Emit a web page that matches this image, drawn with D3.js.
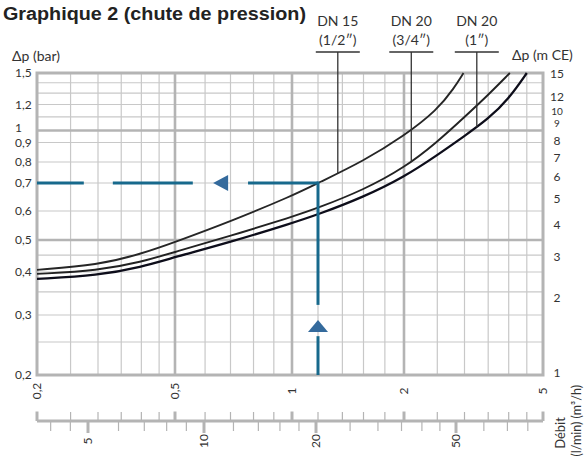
<!DOCTYPE html>
<html><head><meta charset="utf-8">
<script src="https://cdn.jsdelivr.net/npm/d3@7"></script>
<style>body{margin:0;background:#fff}svg{display:block}</style>
</head><body><svg id="c" width="584" height="462"></svg>
<script>
// ---------- data ----------
const title = "Graphique 2 (chute de pression)";
const seriesTop = ["DN 15", "DN 20", "DN 20"];
const seriesSub = ["(1/2″)", "(3/4″)", "(1″)"];
// flow (m³/h) and pressure drop (bar) per series
const flowDN15  = [0.2, 0.3, 0.4, 0.5, 0.7, 1, 1.2, 1.6, 2, 2.5, 2.8, 2.98];
const dpDN15    = [0.406, 0.420, 0.454, 0.493, 0.562, 0.652, 0.7, 0.805, 0.953, 1.155, 1.349, 1.5];
const flowDN20a = [0.2, 0.3, 0.4, 0.5, 0.7, 1, 1.2, 1.6, 2, 2.5, 3, 3.5, 4.03];
const dpDN20a   = [0.395, 0.404, 0.429, 0.46, 0.513, 0.578, 0.61, 0.674, 0.77, 0.904, 1.099, 1.284, 1.5];
const flowDN20b = [0.2, 0.3, 0.4, 0.5, 0.7, 1, 1.2, 1.6, 2, 2.5, 3, 3.5, 4, 4.5];
const dpDN20b   = [0.382, 0.391, 0.414, 0.444, 0.493, 0.556, 0.587, 0.648, 0.727, 0.834, 0.953, 1.084, 1.248, 1.5];
const leaderFlow = [1.36, 2.1, 3.25];
// axis ticks
const yTicksBar  = [0.2, 0.3, 0.4, 0.5, 0.6, 0.7, 0.8, 0.9, 1, 1.2, 1.5];
const yMinorBar  = [0.25, 0.3, 0.35, 0.4, 0.45, 0.6, 0.7, 0.8, 0.9, 1.1, 1.2, 1.3, 1.4];
const yMajorBar  = [0.5, 1];
const yTicksMCE  = [1, 2, 3, 4, 5, 6, 7, 8, 9, 10, 12, 15];
const xTicksM3h  = [0.2, 0.5, 1, 2, 5];
const xMinorM3h  = [0.25, 0.3, 0.35, 0.4, 0.45, 0.6, 0.7, 0.8, 0.9, 1.2, 1.4, 1.6, 1.8, 2.5, 3, 3.5, 4, 4.5];
const xMajorM3h  = [0.5, 1, 2];
const xTicksLmin = [5, 10, 20, 50];
const xMinorLmin = [4, 4.5, 6, 7, 8, 9, 12, 14, 16, 18, 25, 30, 35, 40, 45, 60, 70, 80];
// worked example (reading path)
const exampleFlow = 1.2, exampleDp = 0.7;
const exampleHoriz = [[0.2, 0.273], [0.331, 0.557], [0.775, 1.2]];
const exampleVert  = [[0.7, 0.321], [0.26, 0.2]];
const arrowLeftFlow = 0.63, arrowUpDp = 0.29;

// ---------- scales ----------
const x = d3.scaleLog().domain([0.2,0.3,0.5,0.7,1,1.2,1.6,2,3,5])
  .range([37,98,175,230.5,292,318,363.5,404,464.5,543]);
const y = d3.scaleLog().domain([0.2,0.3,0.4,0.5,0.6,0.7,0.8,0.9,1,1.2,1.5])
  .range([375,315,272,240,211,183,162,142.5,130.5,104.5,73]);
const yR = d3.scaleLog().domain([1,2,3,5,8,9,10,12,15]).range([373,298,257,199,141,123.5,111.5,97,74]);
const xL = d3.scaleLog().domain([5,10,20,50]).range([88,204,316,456]);

const svg = d3.select("#c");
const font = "Lato, 'Open Sans', sans-serif";
const txt = "#333";
const minorC = "#c8c8c8", majorC = "#b4b4b4";

// ---------- grid ----------
const g = svg.append("g");
g.selectAll(".vmin").data(xMinorM3h).join("line")
  .attr("x1", d => x(d)).attr("x2", d => x(d)).attr("y1", y(0.2)).attr("y2", y(1.5))
  .attr("stroke", minorC).attr("stroke-width", 1.2);
g.selectAll(".hmin").data(yMinorBar).join("line")
  .attr("y1", d => y(d)).attr("y2", d => y(d)).attr("x1", x(0.2)).attr("x2", x(5))
  .attr("stroke", minorC).attr("stroke-width", 1.2);
g.selectAll(".vmaj").data(xMajorM3h).join("line")
  .attr("x1", d => x(d)).attr("x2", d => x(d)).attr("y1", y(0.2)).attr("y2", y(1.5))
  .attr("stroke", majorC).attr("stroke-width", 2.6);
g.selectAll(".hmaj").data(yMajorBar).join("line")
  .attr("y1", d => y(d)).attr("y2", d => y(d)).attr("x1", x(0.2)).attr("x2", x(5))
  .attr("stroke", majorC).attr("stroke-width", 2.6);
g.append("rect").attr("x", x(0.2)).attr("y", y(1.5))
  .attr("width", x(5) - x(0.2)).attr("height", y(0.2) - y(1.5))
  .attr("fill", "none").attr("stroke", majorC).attr("stroke-width", 3);

// ---------- curves ----------
const series = [
  {flow: flowDN15, dp: dpDN15, color: "#262626", w: 1.9},
  {flow: flowDN20a, dp: dpDN20a, color: "#222222", w: 1.9},
  {flow: flowDN20b, dp: dpDN20b, color: "#0d0d1a", w: 2.3}
];
const line = d3.line().x(d => x(d[0])).y(d => y(d[1])).curve(d3.curveBasis);
series.forEach(s => {
  const pts = s.flow.map((f, i) => [f, s.dp[i]]);
  s.pts = pts;
  s.path = svg.append("path").attr("d", line(pts)).attr("fill", "none")
    .attr("stroke", s.color).attr("stroke-width", s.w);
});

// ---------- leaders & labels ----------
function yOnPath(s, px) {
  const node = s.path.node();
  let lo = 0, hi = node.getTotalLength();
  for (let k = 0; k < 40; k++) {
    const mid = (lo + hi) / 2;
    if (node.getPointAtLength(mid).x < px) lo = mid; else hi = mid;
  }
  return node.getPointAtLength(lo).y;
}
const leadTopY = 52;
series.forEach((s, i) => {
  const lx = x(leaderFlow[i]);
  svg.append("line").attr("x1", lx).attr("x2", lx).attr("y1", leadTopY).attr("y2", yOnPath(s, lx))
    .attr("stroke", "#333").attr("stroke-width", 1.3);
  svg.append("line").attr("x1", lx - 22).attr("x2", lx + 22).attr("y1", leadTopY).attr("y2", leadTopY)
    .attr("stroke", "#333").attr("stroke-width", 1.3);
  svg.append("text").attr("x", lx).attr("y", 26).attr("text-anchor", "middle")
    .attr("font-family", font).attr("font-size", 14).attr("fill", txt).text(seriesTop[i]);
  svg.append("text").attr("x", lx).attr("y", 45).attr("text-anchor", "middle")
    .attr("font-family", font).attr("font-size", 14).attr("fill", txt).text(seriesSub[i]);
});

// ---------- worked example ----------
const blue = "#17698c", blueArrow = "#346a9c";
exampleHoriz.forEach(seg => {
  svg.append("line").attr("x1", x(seg[0])).attr("x2", x(seg[1]))
    .attr("y1", y(exampleDp)).attr("y2", y(exampleDp))
    .attr("stroke", blue).attr("stroke-width", 3);
});
exampleVert.forEach(seg => {
  svg.append("line").attr("x1", x(exampleFlow)).attr("x2", x(exampleFlow))
    .attr("y1", y(seg[0]) - (seg[0] === exampleDp ? 1.5 : 0)).attr("y2", y(seg[1]))
    .attr("stroke", blue).attr("stroke-width", 3);
});
{
  const tx = x(arrowLeftFlow), ty = y(exampleDp);
  svg.append("path").attr("d", `M${tx},${ty} L${tx + 15},${ty - 8} L${tx + 15},${ty + 8} Z`).attr("fill", blueArrow);
  const ux = x(exampleFlow), uy = y(arrowUpDp);
  svg.append("path").attr("d", `M${ux},${uy} L${ux + 10},${uy + 12} L${ux - 10},${uy + 12} Z`).attr("fill", blueArrow);
}

// ---------- left axis labels ----------
svg.selectAll(".yl").data(yTicksBar).join("text")
  .attr("x", 15).attr("y", d => y(d) + (d === 1 ? -3 : 0)).attr("dy", "0.35em")
  .attr("font-family", font).attr("font-size", 12).attr("fill", txt)
  .text(d => String(d).replace(".", ","));
svg.append("text").attr("x", 12).attr("y", 61).attr("font-family", font).attr("font-size", 14)
  .attr("fill", txt).text("Δp (bar)");

// ---------- right axis labels ----------
svg.selectAll(".yr").data(yTicksMCE).join("text")
  .attr("x", 557).attr("y", d => yR(d)).attr("dy", "0.35em").attr("text-anchor", "middle")
  .attr("font-family", font).attr("font-size", d => (d === 9 || d === 10) ? 10 : 12)
  .attr("fill", txt).text(d => d);
svg.append("text").attr("x", 512).attr("y", 60).attr("font-family", font).attr("font-size", 14)
  .attr("fill", txt).text("Δp (m CE)");

// ---------- bottom labels (m³/h) ----------
svg.selectAll(".xl").data(xTicksM3h).join("text")
  .attr("transform", d => `translate(${x(d)},391) rotate(-90)`).attr("dy", "0.35em")
  .attr("text-anchor", "middle").attr("font-family", font).attr("font-size", 12).attr("fill", txt)
  .text(d => String(d).replace(".", ","));

// ---------- secondary axis (l/min) ----------
const axY = 421;
const ax = svg.append("g");
ax.append("line").attr("x1", x(0.2)).attr("x2", x(5)).attr("y1", axY).attr("y2", axY)
  .attr("stroke", majorC).attr("stroke-width", 3);
ax.selectAll(".tu").data(xMinorM3h).join("line")
  .attr("x1", d => x(d)).attr("x2", d => x(d)).attr("y1", axY).attr("y2", axY - 9)
  .attr("stroke", majorC).attr("stroke-width", 1.2);
ax.selectAll(".tU").data(xTicksM3h).join("line")
  .attr("x1", d => x(d)).attr("x2", d => x(d)).attr("y1", axY).attr("y2", axY - 9.5)
  .attr("stroke", majorC).attr("stroke-width", 3);
ax.selectAll(".td").data(xMinorLmin).join("line")
  .attr("x1", d => xL(d)).attr("x2", d => xL(d)).attr("y1", axY).attr("y2", axY + 10)
  .attr("stroke", majorC).attr("stroke-width", 1.2);
ax.selectAll(".tD").data(xTicksLmin).join("line")
  .attr("x1", d => xL(d)).attr("x2", d => xL(d)).attr("y1", axY).attr("y2", axY + 12)
  .attr("stroke", majorC).attr("stroke-width", 3);
svg.selectAll(".ll").data(xTicksLmin).join("text")
  .attr("transform", d => `translate(${xL(d)},441) rotate(-90)`).attr("dy", "0.35em")
  .attr("text-anchor", "middle").attr("font-family", font).attr("font-size", 12).attr("fill", txt)
  .text(d => d);
svg.append("text").attr("transform", "translate(560,433) rotate(-90)").attr("dy", "0.35em")
  .attr("text-anchor", "middle").attr("font-family", font).attr("font-size", 13).attr("fill", txt)
  .text("Débit");
svg.append("text").attr("transform", "translate(577,385) rotate(-90)").attr("dy", "0.35em")
  .attr("text-anchor", "end").attr("font-family", font).attr("font-size", 12.5).attr("fill", txt)
  .text("(l/min) (m³/h)");

// ---------- title ----------
svg.append("text").attr("x", 3).attr("y", 20).attr("font-family", "'Liberation Sans', Arial, sans-serif")
  .attr("font-weight", "bold").attr("font-size", 18).attr("fill", "#222")
  .attr("textLength", 303).attr("lengthAdjust", "spacingAndGlyphs").text(title);
</script></body></html>
